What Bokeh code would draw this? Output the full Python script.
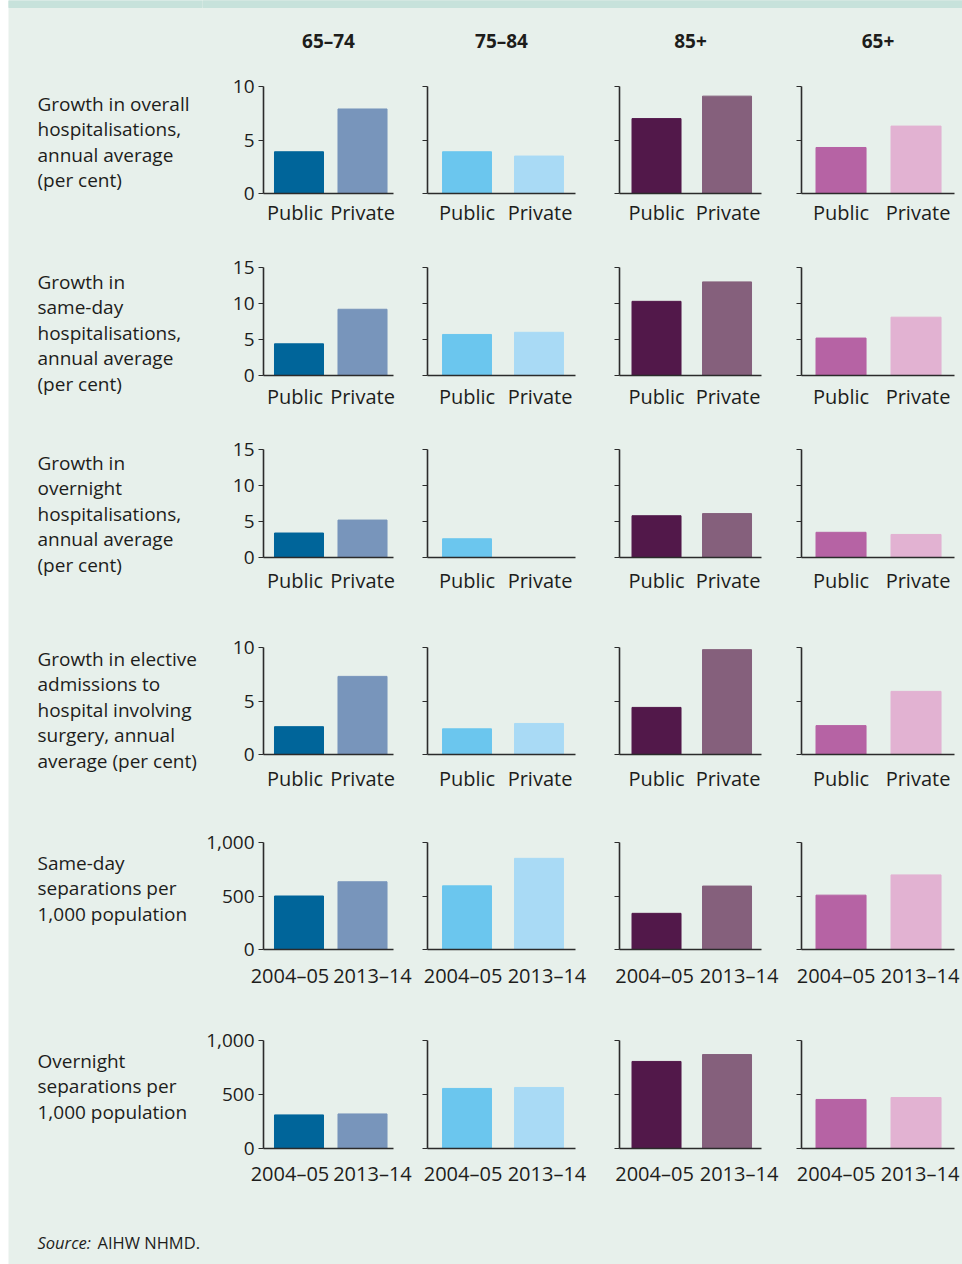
from bokeh.plotting import figure
from bokeh.layouts import row, column
from bokeh.models import (Range1d, FixedTicker, CustomJSTickFormatter,
                          NumeralTickFormatter, ColumnDataSource, Spacer)
from bokeh.core.properties import value
from bokeh.embed import file_html
from bokeh.resources import INLINE

# ---------------------------------------------------------------- data
age_groups = ["65–74", "75–84", "85+", "65+"]
sector_categories = ["Public", "Private"]
year_categories = ["2004–05", "2013–14"]

measure_labels = [
    ["Growth in overall", "hospitalisations,", "annual average", "(per cent)"],
    ["Growth in", "same-day", "hospitalisations,", "annual average", "(per cent)"],
    ["Growth in", "overnight", "hospitalisations,", "annual average", "(per cent)"],
    ["Growth in elective", "admissions to", "hospital involving",
     "surgery, annual", "average (per cent)"],
    ["Same-day", "separations per", "1,000 population"],
    ["Overnight", "separations per", "1,000 population"],
]

# one pair of values per age group (65–74, 75–84, 85+, 65+)
overall_growth = [[3.9, 7.9], [3.9, 3.5], [7.0, 9.1], [4.3, 6.3]]
same_day_growth = [[4.4, 9.2], [5.7, 6.0], [10.3, 13.0], [5.2, 8.1]]
overnight_growth = [[3.4, 5.2], [2.6, 0.0], [5.8, 6.1], [3.5, 3.2]]
elective_surgery_growth = [[2.6, 7.3], [2.4, 2.9], [4.4, 9.8], [2.7, 5.9]]
same_day_per_1000 = [[500, 633], [595, 852], [338, 593], [508, 697]]
overnight_per_1000 = [[311, 320], [556, 565], [806, 870], [454, 472]]

growth_ticks_10 = [0, 5, 10]
growth_ticks_15 = [0, 5, 10, 15]
rate_ticks = [0, 500, 1000]

source_note = ("Source:", "AIHW NHMD.")

# --------------------------------------------------------------- style
PANEL = "#e7f0eb"
BAND = "#c7e2db"
INK = "#1d1d1b"
AXIS = "#2b2b2b"
FONT = "Open Sans"

first_colours = ["#00659a", "#6bc6ee", "#52184a", "#b663a4"]
second_colours = ["#7895bb", "#a9daf5", "#85607c", "#e2b2d2"]

PAGE_H = 1264
LABEL_W = 194
TOP_H, HEADER_H, SOURCE_H = 7, 62, 59
# per age-group column: figure width, left border, frame width, x start, x end, bar width
COLUMNS = [
    (211, 61, 130, -0.059, 1.988, 0.772),
    (185, 14, 148, -0.049, 2.007, 0.680),
    (183, 21, 142, -0.025, 1.989, 0.695),
    (181, 20, 153, -0.027, 2.013, 0.667),
]
CHART_W = sum(c[0] for c in COLUMNS)

# horizontal nudges (px) of the two category labels under each column
SECTOR_NUDGES = [(-4, 0), (0, 1), (0, 1), (0, 2)]
YEAR_NUDGES = [(-9, 10), (-4, 8), (-2, 12), (-5, 4)]

# per chart row: values, y max, ticks, categories, frame height, top border,
# bottom border, x label standoff, first label line y, label nudges
ROWS = [
    (overall_growth, 10, growth_ticks_10, sector_categories, 107, 24, 52, 5, 41, SECTOR_NUDGES),
    (same_day_growth, 15, growth_ticks_15, sector_categories, 108, 22, 52, 7, 36, SECTOR_NUDGES),
    (overnight_growth, 15, growth_ticks_15, sector_categories, 108, 22, 68, 9, 35, SECTOR_NUDGES),
    (elective_surgery_growth, 10, growth_ticks_10, sector_categories, 107, 22, 66, 10, 33, SECTOR_NUDGES),
    (same_day_per_1000, 1000, rate_ticks, year_categories, 107, 22, 69, 12, 42, YEAR_NUDGES),
    (overnight_per_1000, 1000, rate_ticks, year_categories, 108, 22, 57, 11, 42, YEAR_NUDGES),
]
LINE_STEP = 25.6


def blank(width, height, fill):
    p = figure(width=width, height=height, toolbar_location=None,
               output_backend="svg", min_border=0,
               x_range=Range1d(0, width), y_range=Range1d(height, 0),
               x_axis_type=None, y_axis_type=None,
               background_fill_color=fill, border_fill_color=fill,
               outline_line_color=None)
    p.grid.visible = False
    return p


def bar_cell(col, values, ymax, ticks, categories, frame_h, top_b, bottom_b,
             standoff, nudges):
    width, left_b, frame_w, x0, x1, bar_w = COLUMNS[col]
    p = figure(width=width, height=top_b + frame_h + bottom_b,
               toolbar_location=None, output_backend="svg",
               x_range=Range1d(x0, x1), y_range=Range1d(0, ymax),
               min_border_left=left_b, min_border_right=width - left_b - frame_w,
               min_border_top=top_b, min_border_bottom=bottom_b,
               background_fill_color=PANEL, border_fill_color=PANEL,
               outline_line_color=None)
    p.grid.visible = False

    centers = [i + 0.5 for i in range(len(categories))]
    src = ColumnDataSource(dict(x=centers, top=values[col],
                                color=[first_colours[col], second_colours[col]]))
    p.vbar(x="x", top="top", bottom=0, width=bar_w, color="color", source=src)

    units_per_px = (x1 - x0) / frame_w
    label_pos = [c + n * units_per_px for c, n in zip(centers, nudges[col])]

    xa = p.xaxis[0]
    xa.ticker = FixedTicker(ticks=label_pos)
    xa.formatter = CustomJSTickFormatter(args=dict(labels=categories),
                                         code="return labels[Math.floor(tick)];")
    xa.major_tick_line_color = None
    xa.minor_tick_line_color = None
    xa.major_tick_out = 0
    xa.major_tick_in = 0
    xa.major_label_standoff = standoff
    xa.axis_line_color = AXIS
    xa.axis_line_width = 1.6
    xa.major_label_text_font = FONT
    xa.major_label_text_font_size = "20px"
    xa.major_label_text_color = INK

    ya = p.yaxis[0]
    ya.ticker = FixedTicker(ticks=ticks)
    ya.major_tick_out = 5
    ya.major_tick_in = 0
    ya.major_tick_line_color = AXIS
    ya.major_tick_line_width = 1.2
    ya.minor_tick_line_color = None
    ya.axis_line_color = AXIS
    ya.axis_line_width = 1.6
    if col == 0:
        ya.formatter = NumeralTickFormatter(format="0,0")
        ya.major_label_standoff = 4
        ya.major_label_text_font = FONT
        ya.major_label_text_font_size = "19px"
        ya.major_label_text_color = INK
    else:
        ya.formatter = CustomJSTickFormatter(code="return '';")
        ya.major_label_standoff = 0
    return p


# left column: top band strip, measure labels and the source note
left = blank(LABEL_W, PAGE_H, PANEL)
left.quad(left=0, right=LABEL_W, top=0, bottom=TOP_H, color=BAND)

label_x, label_y, label_text = [], [], []
band_top = HEADER_H
for r, spec in enumerate(ROWS):
    frame_h, top_b, bottom_b, first_y = spec[4], spec[5], spec[6], spec[8]
    for i, line in enumerate(measure_labels[r]):
        label_x.append(29)
        label_y.append(band_top + first_y + i * LINE_STEP)
        label_text.append(line)
    band_top += top_b + frame_h + bottom_b
left.text(x=label_x, y=label_y, text=label_text, text_font=value(FONT),
          text_font_size="19px", text_color=INK, text_align="left",
          text_baseline="middle")
left.text(x=[29], y=[band_top + 37], text=[source_note[0]], text_font=value(FONT),
          text_font_size="16.5px", text_font_style="italic", text_color=INK,
          text_align="left", text_baseline="middle")
left.text(x=[89], y=[band_top + 37], text=[source_note[1]], text_font=value(FONT),
          text_font_size="16.5px", text_color=INK, text_align="left",
          text_baseline="middle")

# right column: band strip with age-group titles, chart rows, bottom margin
header = blank(CHART_W, HEADER_H, PANEL)
header.quad(left=0, right=CHART_W, top=0, bottom=TOP_H, color=BAND)
x_cursor = 0
title_x = []
for width, left_b, frame_w, *_ in COLUMNS:
    title_x.append(x_cursor + left_b + frame_w / 2)
    x_cursor += width
header.text(x=title_x, y=[TOP_H + 33] * len(age_groups), text=age_groups,
            text_font=value(FONT), text_font_size="19px", text_font_style="bold",
            text_color=INK, text_align="center", text_baseline="middle")

bands = [header]
for vals, ymax, ticks, cats, frame_h, top_b, bottom_b, standoff, _, nudges in ROWS:
    cells = [bar_cell(c, vals, ymax, ticks, cats, frame_h, top_b, bottom_b,
                      standoff, nudges)
             for c in range(len(age_groups))]
    bands.append(row(*cells, styles={"background-color": PANEL}))

bottom = blank(CHART_W, SOURCE_H, PANEL)
bottom.quad(left=0, right=CHART_W, top=SOURCE_H - 1, bottom=SOURCE_H, color=PANEL)
bands.append(bottom)

charts = column(*bands, styles={"background-color": PANEL})
layout = row(Spacer(width=8, height=PAGE_H), left, charts)

open("out.html", "w").write(file_html(layout, INLINE))
